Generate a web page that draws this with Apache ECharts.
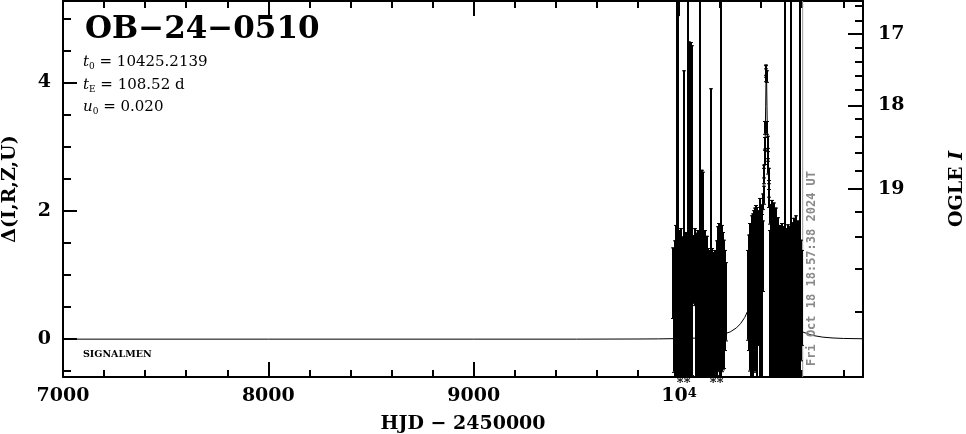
<!DOCTYPE html>
<html>
<head>
<meta charset="utf-8">
<title>OB-24-0510</title>
<script src="https://cdn.jsdelivr.net/npm/echarts@6.0.0/dist/echarts.min.js"></script>
<style>
html,body{margin:0;padding:0;background:#fff;}
#chart{width:966px;height:434px;}
</style>
</head>
<body>
<div id="chart"></div>
<script>
// ---------------- axes ----------------
const xRange = [7000, 10896];
const yRange = [-0.59, 5.27];
const xMajorTicks = [7000, 8000, 9000, 10000];
const xMinorTicks = [7200, 7400, 7600, 7800, 8200, 8400, 8600, 8800, 9200, 9400, 9600, 9800, 10200, 10400, 10600, 10800];
const yMajorTicks = [0, 2, 4];
const yMinorTicks = [-0.5, 0.5, 1, 1.5, 2.5, 3, 3.5, 4.5, 5];
// OGLE I magnitude scale (right axis), placed at the Δ values
const magMajorLabels = ['17', '18', '19'];
const magMajorPos = [4.76, 3.645, 2.34];
const magMinorLabels = ['16.6', '16.8', '17.2', '17.4', '17.6', '17.8', '18.2', '18.4', '18.6', '18.8', '19.2', '19.4', '19.6', '19.8'];
const magMinorPos = [5.19, 4.96, 4.54, 4.32, 4.10, 3.88, 3.43, 3.16, 2.90, 2.62, 1.98, 1.59, 1.09, 0.42];

// ---------------- photometry (HJD-2450000, Δ, error) ----------------
const hjd = [
  // 2023 season
  9970.7, 9975.6, 9980.4, 9985.3, 9990.2, 9995.1, 9999.9, 10004.8, 10009.7, 10014.5,
  10019.4, 10024.3, 10029.1, 10034.0, 10038.9, 10043.8, 10048.6, 10053.5, 10058.4, 10063.2,
  10068.1, 10073.0, 10077.8, 10082.7, 10087.6, 10092.5, 10097.3, 10102.2, 10107.1, 10111.9,
  10116.8, 10121.7, 10126.5, 10131.4, 10136.3, 10141.2, 10146.0, 10155.8, 10160.6, 10165.5,
  10175.2, 10180.1, 10185.0, 10189.9, 10194.7, 10199.6, 10204.5, 10209.3, 10214.2, 10219.1,
  10223.9, 10228.8,
  // 2024 season, rising part
  10336.0, 10340.8, 10345.7, 10350.6, 10355.4, 10360.3, 10365.2, 10370.0, 10374.9, 10379.8,
  10384.7, 10389.5, 10394.4, 10399.3, 10404.1, 10409.0,
  // peak
  10404.0, 10409.5, 10412.0, 10414.5, 10416.0, 10417.5, 10419.0, 10420.5, 10424.0, 10424.8,
  10425.6, 10426.5, 10430.0, 10431.5, 10433.0, 10434.5, 10436.0, 10438.0, 10440.5, 10444.0,
  // 2024 season, after peak
  10443.1, 10448.0, 10452.8, 10457.7, 10462.6, 10467.4, 10472.3, 10477.2, 10482.1, 10486.9,
  10491.8, 10496.7, 10501.5, 10506.4, 10511.3, 10516.1, 10521.0, 10525.9, 10530.8, 10535.6,
  10540.5, 10545.4, 10550.2, 10555.1, 10560.0, 10564.8, 10569.7, 10574.6, 10579.4, 10584.3,
  10589.2, 10594.0, 10598.9
];
const dMag = [
  0.88, 0.40, 0.37, 0.54, 2.40, 2.05, 0.40, 0.36, 0.34, 0.45,
  0.35, 1.45, 0.41, 0.36, 0.38, 2.50, 1.77, 1.80, 1.72, 2.01,
  1.09, 1.08, 1.13, 0.43, 0.36, 0.50, 0.30, 2.30, 0.43, 0.87,
  0.93, 0.39, 0.35, 0.39, 0.36, 0.43, 0.27, 1.46, 0.46, 0.28,
  0.39, 0.27, 0.49, 0.63, 0.67, 0.55, 2.25, 0.64, 0.60, 0.55,
  0.61, 0.59,
  0.69, 0.73, 0.66, 0.50, 0.76, 0.58, 0.84, 0.77, 0.92, 0.66,
  0.96, 1.04, 0.75, 1.14, 0.70, 1.30,
  1.80, 2.15, 2.25, 2.55, 2.62, 2.85, 3.05, 3.30, 4.12, 4.18,
  4.20, 4.10, 3.30, 3.05, 2.88, 2.70, 2.55, 2.35, 2.20, 1.95,
  0.50, 0.77, 0.72, 0.65, 0.86, 0.60, 0.65, 0.88, 0.58, 0.48,
  0.64, 0.45, 0.51, 0.42, 0.60, 2.40, 0.47, 0.42, 0.54, 0.61,
  0.48, 2.30, 0.43, 0.55, 0.69, 0.55, 0.58, 0.50, 0.65, 0.45,
  2.45, 0.61, 0.65
];
const dErr = [
  0.55, 0.91, 1.17, 1.24, 3.50, 3.00, 1.30, 1.11, 1.39, 1.15,
  1.19, 2.74, 1.21, 1.31, 1.10, 3.70, 2.87, 2.80, 2.91, 2.57,
  0.53, 0.47, 0.60, 1.23, 1.26, 1.20, 1.25, 3.50, 1.28, 1.77,
  1.68, 1.19, 1.35, 1.09, 1.25, 0.99, 1.12, 2.45, 0.96, 1.08,
  1.00, 0.96, 1.05, 1.13, 1.14, 1.15, 3.35, 1.14, 1.07, 1.00,
  0.78, 0.61,
  0.70, 0.90, 1.15, 1.20, 1.17, 1.38, 1.17, 1.28, 1.17, 1.40,
  1.05, 0.90, 1.45, 0.84, 1.40, 0.55,
  0.15, 0.12, 0.14, 0.12, 0.10, 0.12, 0.10, 0.10, 0.10, 0.09,
  0.08, 0.09, 0.10, 0.12, 0.10, 0.12, 0.12, 0.13, 0.14, 0.15,
  1.20, 1.33, 1.45, 1.36, 1.27, 1.38, 1.40, 0.97, 1.32, 1.25,
  1.14, 1.25, 1.30, 1.23, 1.16, 3.55, 1.26, 1.25, 1.25, 1.09,
  1.28, 3.45, 1.22, 1.27, 1.20, 1.30, 1.35, 1.28, 1.20, 1.25,
  3.60, 0.94, 0.74
];

// ---------------- model curve ----------------
const modelHJD = [7000, 8000, 9000, 9500, 9800, 9900, 10000, 10100, 10150, 10200, 10250, 10280, 10300, 10320, 10340,
  10360, 10380, 10395, 10405, 10412, 10416, 10420, 10422, 10424, 10425.2, 10426.4, 10428.4, 10430.4, 10434.4, 10438.4,
  10445.4, 10455.4, 10470, 10490, 10510, 10530, 10550, 10570, 10600, 10650, 10700, 10750, 10800, 10896];
const modelD = [0.0, 0.0, 0.0, 0.0, 0.002, 0.004, 0.009, 0.018, 0.031, 0.058, 0.114, 0.177, 0.243, 0.338, 0.477,
  0.686, 1.017, 1.417, 1.83, 2.28, 2.65, 3.21, 3.62, 4.10, 4.25, 4.10, 3.62, 3.21, 2.65, 2.28,
  1.83, 1.417, 1.01, 0.69, 0.48, 0.34, 0.245, 0.178, 0.114, 0.058, 0.031, 0.018, 0.011, 0.006];

// ---------------- extras ----------------
const starHJD = [10005, 10039, 10166, 10200];
const openPoint = [10783, 4.93];
const nowHJD = 10602.29;
const nowLabel = 'Fri Oct 18 18:57:38 2024 UT';
const eventName = 'OB−24−0510';
const paramSym = ['t', 't', 'u'];
const paramSub = ['0', 'E', '0'];
const paramVal = ['10425.2139', '108.52 d', '0.020'];
const signalmenText = 'SIGNALMEN';

// ---------------- chart ----------------
const FONT = 'DejaVu Serif';
const LBL = { fontFamily: FONT, fontWeight: 'bold', fontSize: 19, color: '#000' };
const chart = echarts.init(document.getElementById('chart'), null, { renderer: 'canvas' });

function baseAxis(extra) {
  return Object.assign({
    type: 'value', gridIndex: 0,
    splitLine: { show: false }, splitArea: { show: false },
    axisLine: { show: false, onZero: false },
    axisLabel: { show: false },
    axisTick: { show: false }
  }, extra);
}
function ticks(values, len) {
  return { show: true, inside: true, length: len, customValues: values, lineStyle: { color: '#000', width: 2 } };
}
const frameLine = { show: true, onZero: false, lineStyle: { color: '#000', width: 2 } };

const points = [];
const n = Math.min(hjd.length, dMag.length, dErr.length);
for (let i = 0; i < n; i++) points.push([hjd[i], dMag[i], dErr[i]]);

function renderBar(params, api) {
  const t = api.value(0), v = api.value(1), e = api.value(2);
  const lo = Math.max(v - e, yRange[0]);
  const hi = Math.min(v + e, yRange[1]);
  if (hi <= lo) return null;
  const pLo = api.coord([t, lo]);
  const pHi = api.coord([t, hi]);
  const x = Math.round(pLo[0]);
  const st = { stroke: '#000', lineWidth: 2 };
  const cap = { stroke: '#000', lineWidth: 1 };
  const children = [{ type: 'line', shape: { x1: x, y1: pLo[1], x2: x, y2: pHi[1] }, style: st }];
  if (v - e >= yRange[0]) children.push({ type: 'line', shape: { x1: x - 2, y1: pLo[1] + 0.5, x2: x + 2, y2: pLo[1] + 0.5 }, style: cap });
  if (v + e <= yRange[1]) children.push({ type: 'line', shape: { x1: x - 2, y1: pHi[1] + 0.5, x2: x + 2, y2: pHi[1] + 0.5 }, style: cap });
  return { type: 'group', children };
}

const option = {
  animation: false,
  backgroundColor: '#fff',
  grid: { left: 63, top: 1, width: 800, height: 376, containLabel: false, outerBoundsMode: 'none' },
  xAxis: [
    baseAxis({
      position: 'bottom', min: xRange[0], max: xRange[1],
      axisLine: frameLine,
      axisTick: ticks(xMajorTicks, 15),
      axisLabel: {
        show: true, customValues: xMajorTicks, margin: 10,
        fontFamily: FONT, fontWeight: 'bold', fontSize: 19, color: '#000',
        formatter: v => (v === 10000 ? '{a|10}{s|4}' : '{a|' + v + '}'),
        rich: { a: LBL, s: Object.assign({}, LBL, { fontSize: 13, verticalAlign: 'top' }) }
      },
      name: 'HJD − 2450000', nameLocation: 'middle', nameGap: 38, nameTextStyle: LBL
    }),
    baseAxis({ position: 'bottom', min: xRange[0], max: xRange[1], axisTick: ticks(xMinorTicks, 7) }),
    baseAxis({ position: 'top', min: xRange[0], max: xRange[1], axisLine: frameLine, axisTick: ticks(xMajorTicks, 15) }),
    baseAxis({ position: 'top', min: xRange[0], max: xRange[1], axisTick: ticks(xMinorTicks, 7) })
  ],
  yAxis: [
    baseAxis({
      position: 'left', min: yRange[0], max: yRange[1],
      axisLine: frameLine,
      axisTick: ticks(yMajorTicks, 14),
      axisLabel: Object.assign({ show: true, customValues: yMajorTicks, margin: 12 }, LBL),
      name: 'Δ(I,R,Z,U)', nameLocation: 'middle', nameRotate: 90, nameGap: 43, nameTextStyle: LBL
    }),
    baseAxis({ position: 'left', min: yRange[0], max: yRange[1], axisTick: ticks(yMinorTicks, 8) }),
    baseAxis({
      position: 'right', min: yRange[0], max: yRange[1],
      axisLine: frameLine,
      axisTick: ticks(magMajorPos, 15),
      axisLabel: Object.assign({
        show: true, customValues: magMajorPos, margin: 15,
        formatter: v => {
          let best = 0;
          for (let i = 1; i < magMajorPos.length; i++) if (Math.abs(magMajorPos[i] - v) < Math.abs(magMajorPos[best] - v)) best = i;
          return magMajorLabels[best];
        }
      }, LBL),
      name: '{n|OGLE }{i|I}', nameLocation: 'middle', nameRotate: 90, nameGap: 85,
      nameTextStyle: { rich: { n: LBL, i: Object.assign({}, LBL, { fontStyle: 'italic' }) } }
    }),
    baseAxis({ position: 'right', min: yRange[0], max: yRange[1], axisTick: ticks(magMinorPos, 8) })
  ],
  series: [
    {
      type: 'line', xAxisIndex: 0, yAxisIndex: 0, z: 2,
      data: modelHJD.map((t, i) => [t, modelD[i]]),
      showSymbol: false, symbol: 'none', silent: true,
      lineStyle: { color: '#000', width: 1 }
    },
    {
      type: 'line', xAxisIndex: 0, yAxisIndex: 0, z: 1,
      data: [[nowHJD, yRange[0]], [nowHJD, yRange[1]]],
      showSymbol: false, symbol: 'none', silent: true,
      lineStyle: { color: '#999', width: 1 }
    },
    {
      type: 'custom', xAxisIndex: 0, yAxisIndex: 0, z: 3,
      dimensions: ['hjd', 'dmag', 'err'],
      encode: { x: 0, y: 1 },
      data: points,
      renderItem: renderBar
    },
    {
      type: 'scatter', xAxisIndex: 0, yAxisIndex: 0, z: 4,
      data: [openPoint], symbol: 'emptyCircle', symbolSize: 6,
      itemStyle: { color: '#fff', borderColor: '#000', borderWidth: 1.6 }
    },
    {
      type: 'scatter', xAxisIndex: 0, yAxisIndex: 0, z: 4, clip: false,
      data: starHJD.map(t => [t, yRange[0]]), symbolSize: 1,
      itemStyle: { color: 'rgba(0,0,0,0)' },
      label: { show: true, formatter: '*', position: 'bottom', distance: 0, fontFamily: FONT, fontWeight: 'bold', fontSize: 13, color: '#000', opacity: 1 },
      labelLayout: { hideOverlap: false }
    }
  ]
};
chart.setOption(option);

const nowPx = chart.convertToPixel({ xAxisIndex: 0 }, nowHJD);
const paramRich = {
  i: { fontFamily: FONT, fontStyle: 'italic', fontSize: 15, fill: '#000', lineHeight: 19 },
  s: { fontFamily: FONT, fontSize: 9, fill: '#000', verticalAlign: 'bottom' },
  n: { fontFamily: FONT, fontSize: 15, fill: '#000', lineHeight: 19 }
};
const paramY = [62, 85, 107];
const graphics = [
  { type: 'text', x: 85, y: 30, z: 10,
    style: { text: eventName, fontFamily: FONT, fontWeight: 'bold', fontSize: 31, fill: '#000', align: 'left', verticalAlign: 'middle' } },
  { type: 'text', x: 83, y: 355, z: 10,
    style: { text: signalmenText, fontFamily: FONT, fontWeight: 'bold', fontSize: 9.5, fill: '#000', align: 'left', verticalAlign: 'middle' } },
  { type: 'text', x: nowPx + 9, y: 366, rotation: Math.PI / 2, z: 10,
    style: { text: nowLabel, fontFamily: 'DejaVu Sans Mono', fontWeight: 'bold', fontSize: 12, fill: '#8a8a8a', align: 'left', verticalAlign: 'middle' } }
];
for (let i = 0; i < paramSym.length; i++) {
  graphics.push({ type: 'text', x: 83, y: paramY[i], z: 10,
    style: { text: '{i|' + paramSym[i] + '}{s|' + paramSub[i] + '}{n| = ' + paramVal[i] + '}', rich: paramRich, align: 'left', verticalAlign: 'middle' } });
}
chart.setOption({ graphic: graphics });
</script>
</body>
</html>
